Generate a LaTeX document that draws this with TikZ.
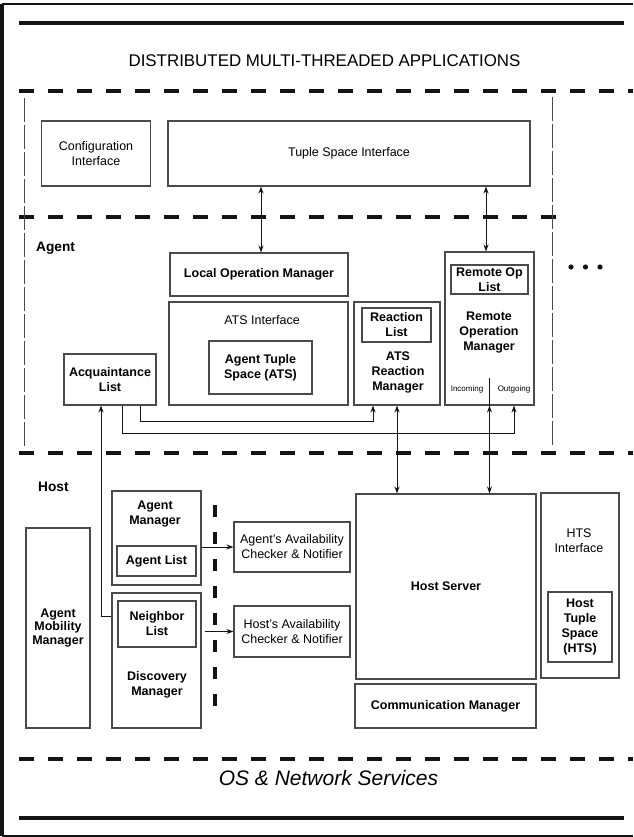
\documentclass[tikz,border=0pt]{standalone}
\usepackage{fontspec}
\setmainfont{Liberation Sans}
\usepackage{tikz}
\usetikzlibrary{arrows.meta}
\definecolor{ink}{HTML}{141414}
\definecolor{edge}{HTML}{4A4A4A}
\tikzset{
  box/.style={draw=edge, line width=1.1pt, align=center, inner sep=1pt, font=\fontsize{12.5}{15}\selectfont},
  bbox/.style={box, font=\fontsize{12.5}{15}\selectfont\bfseries},
  lab/.style={align=center, inner sep=0pt, font=\fontsize{12.5}{15}\selectfont},
  blab/.style={lab, font=\fontsize{12.5}{15}\selectfont\bfseries},
  tiny/.style={inner sep=0pt, font=\fontsize{8}{9}\selectfont},
  sec/.style={anchor=west, inner sep=0pt, font=\fontsize{13.7}{16}\selectfont\bfseries},
  link/.style={draw=ink, line width=0.9pt, -{Stealth[length=7pt,width=5pt]}},
  blink/.style={draw=ink, line width=0.9pt, {Stealth[length=7pt,width=5pt]}-{Stealth[length=7pt,width=5pt]}},
  wire/.style={draw=ink, line width=0.9pt},
  layer/.style={draw=ink, line width=3.5pt, dash pattern=on 15pt off 14pt},
  rule/.style={draw=ink, line width=3.5pt},
  side/.style={draw=edge, line width=1pt, dash pattern=on 24pt off 3pt},
}

\begin{document}
\begin{tikzpicture}[x=1pt, y=-1pt]
  \useasboundingbox (0,0) rectangle (633,837);

  % frame and layer rules
  \draw[ink, line width=2pt] (633,4) -- (2,4);
  \draw[ink, line width=4pt] (2,4) -- (2,836);
  \draw[ink, line width=1.5pt] (2,836) -- (633,836);
  \draw[rule] (19,23) -- (624,23);
  \draw[rule] (19,818) -- (624,818);
  \draw[layer] (19,91) -- (633,91);
  \draw[layer] (19,217) -- (558,217);
  \draw[layer] (19,453) -- (633,453);
  \draw[layer] (19,759) -- (633,759);
  \draw[layer, dash pattern=on 12pt off 15pt] (215,505) -- (215,712);
  \draw[side] (24,98) -- (24,448);
  \draw[side] (552,97) -- (552,448);

  \node[inner sep=0pt, font=\fontsize{16.9}{18}\selectfont] (apps) at (324.5,60.5) {DISTRIBUTED MULTI-THREADED APPLICATIONS};
  \node[inner sep=0pt, font=\fontsize{21}{24}\selectfont\itshape] (os) at (328.5,778) {OS \& Network Services};

  % application interfaces
  \node[box, minimum width=109pt, minimum height=65pt] (cfg) at (96,153.5) {Configuration\\Interface};
  \node[box, minimum width=362pt, minimum height=65pt] (tsi) at (349,153.5) {Tuple Space Interface};

  % agent layer
  \node[sec] (agent) at (36,248) {Agent};
  \node[bbox, minimum width=178pt, minimum height=43pt] (lom) at (259,274.5) {Local Operation Manager};
  \node[box, minimum width=179pt, minimum height=103pt] (atsi) at (258.5,353.5) {};
  \node[lab] (atsi-lbl) at (262,320) {ATS Interface};
  \node[bbox, minimum width=103pt, minimum height=53pt] (ats) at (260.5,367.5) {Agent Tuple\\Space (ATS)};
  \node[box, minimum width=86pt, minimum height=103pt] (arm) at (397,353.5) {};
  \node[bbox, minimum width=69pt, minimum height=34pt] (rlist) at (396.5,325) {Reaction\\List};
  \node[blab] (arm-lbl) at (398,372) {ATS\\Reaction\\Manager};
  \node[box, minimum width=89pt, minimum height=153pt] (rom) at (489.5,328.5) {};
  \node[bbox, minimum width=77pt, minimum height=29pt] (rolist) at (489.5,279.5) {Remote Op\\List};
  \node[blab] (rom-lbl) at (489,333) {Remote\\Operation\\Manager};
  \node[tiny] (inc) at (467,389) {Incoming};
  \node[tiny] (out) at (514,389) {Outgoing};
  \draw[wire] (rom.south) -- ++(0,-28);
  \node[bbox, minimum width=92pt, minimum height=51pt] (acq) at (110,379.5) {Acquaintance\\List};
  \foreach \dx in {571,585.5,600}
    \fill[ink] (\dx,267) circle (2.6pt);

  % host layer
  \node[sec] (host) at (38,487) {Host};
  \node[box, minimum width=89pt, minimum height=94pt] (am) at (156.5,538) {};
  \node[blab] (am-lbl) at (155,514) {Agent\\Manager};
  \node[bbox, minimum width=79pt, minimum height=30pt] (alist) at (156.5,561) {Agent List};
  \node[box, minimum width=89pt, minimum height=135pt] (dm) at (156.5,660.5) {};
  \node[bbox, minimum width=78pt, minimum height=46pt] (nlist) at (157,624) {Neighbor\\List};
  \node[blab] (dm-lbl) at (157,685) {Discovery\\Manager};
  \node[bbox, minimum width=64pt, minimum height=200pt, font=\fontsize{12.5}{13.5}\selectfont\bfseries] (amm) at (58,628) {Agent\\Mobility\\Manager};
  \node[box, minimum width=116pt, minimum height=50pt] (aacn) at (292,547) {Agent's Availability\\Checker \& Notifier};
  \node[box, minimum width=116pt, minimum height=51pt] (hacn) at (292,631.5) {Host's Availability\\Checker \& Notifier};
  \node[bbox, minimum width=180pt, minimum height=185pt] (hs) at (446,586.5) {Host Server};
  \node[bbox, minimum width=181pt, minimum height=44pt] (cm) at (445.5,706) {Communication Manager};
  \node[box, minimum width=78pt, minimum height=185pt] (htsi) at (580,585.5) {};
  \node[lab] (htsi-lbl) at (579,541) {HTS\\Interface};
  \node[bbox, minimum width=64pt, minimum height=70pt] (hts) at (580,627) {Host\\Tuple\\Space\\(HTS)};

  % connectors
  \draw[blink] ([xshift=2pt]lom.north |- tsi.south) -- ([xshift=2pt]lom.north);
  \draw[blink] ([xshift=-3.5pt]rom.north |- tsi.south) -- ([xshift=-3.5pt]rom.north);
  \draw[blink] (arm.south) -- (arm.south |- hs.north);
  \draw[blink] (rom.south) -- (rom.south |- hs.north);
  \draw[link] ([xshift=30pt]acq.south) -- ++(0,16) -| ([xshift=-24pt]arm.south);
  \draw[link] ([xshift=12pt]acq.south) -- ++(0,28) -| ([xshift=24.5pt]rom.south);
  \draw[link] ([yshift=44.5pt]dm.west) -| ([xshift=-9pt]acq.south);
  \draw[link] (aacn.west -| am.east) -- (aacn.west);
  \draw[link] ([xshift=3pt]hacn.west -| dm.east) -- (hacn.west);
\end{tikzpicture}
\end{document}
